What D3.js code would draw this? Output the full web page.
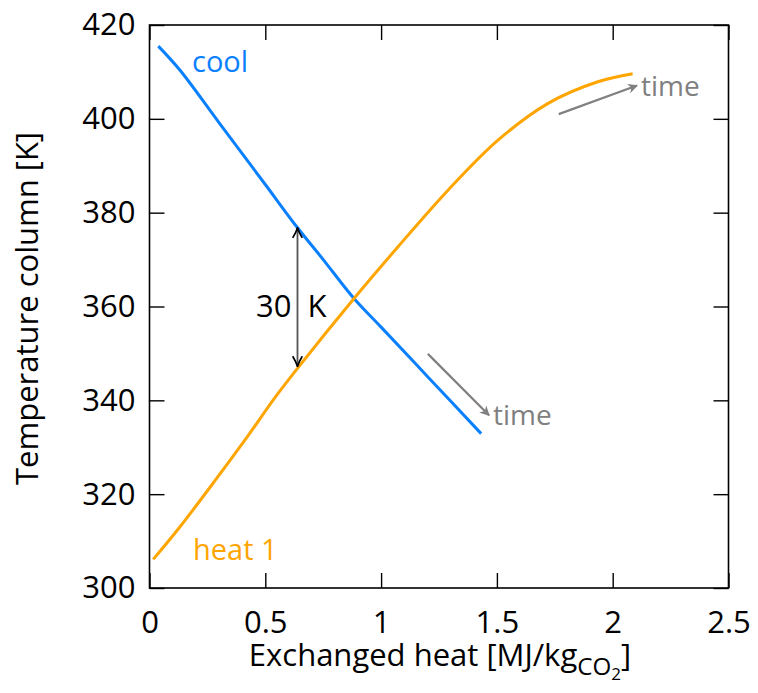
<!DOCTYPE html>
<html>
<head>
<meta charset="utf-8">
<script src="https://cdn.jsdelivr.net/npm/d3@7"></script>
<style>
  html, body { margin: 0; padding: 0; background: #fff; }
  svg { display: block; font-family: "Open Sans", "DejaVu Sans", sans-serif; }
</style>
</head>
<body>
<svg id="chart" width="758" height="693"></svg>
<script>
// Exchanged heat [MJ/kg CO2] and column temperature [K] along each step
const coolHeat = [0.038, 0.131, 0.30, 0.50, 0.634, 0.75, 0.883, 1.00, 1.20, 1.432];
const coolTemp = [415.5, 410.4, 399.2, 386.0, 377.1, 370.0, 361.7, 355.6, 345.1, 332.9];

const heatHeat = [0.016, 0.131, 0.289, 0.432, 0.533, 0.639, 0.883, 1.076, 1.291, 1.506, 1.721, 1.936, 2.086];
const heatTemp = [306.1, 313.0, 323.3, 332.9, 340.0, 346.8, 361.7, 372.9, 384.9, 395.5, 403.3, 407.9, 409.6];

// Axis ticks
const xTicks = [0, 0.5, 1, 1.5, 2, 2.5];
const yTicks = [300, 320, 340, 360, 380, 400, 420];

// Temperature gap marked between the two curves
const gapHeat = 0.639;
const gapLow = 347;
const gapHigh = 377;

// "time" direction arrows: [x0, T0, x1, T1]
const timeArrows = [
  [1.202, 349.9, 1.466, 336.8],
  [1.767, 401.0, 2.105, 407.1]
];

const svg = d3.select("#chart");
const mLeft = 149.5, mRight = 728.5, mTop = 25, mBottom = 588;

const x = d3.scaleLinear().domain([0, 2.5]).range([mLeft, mRight]);
const y = d3.scaleLinear().domain([300, 420]).range([mBottom, mTop]);

const blue = "#0a80ff";
const orange = "#ffa500";
const gray = "#808080";
const fs = 31;

// Arrow heads
const defs = svg.append("defs");
defs.append("marker")
  .attr("id", "headGray")
  .attr("viewBox", "0 0 10 10")
  .attr("refX", 9).attr("refY", 5)
  .attr("markerWidth", 10).attr("markerHeight", 10)
  .attr("markerUnits", "userSpaceOnUse")
  .attr("orient", "auto-start-reverse")
  .append("path")
  .attr("d", "M0,0 L10,5 L0,10 L3,5 Z")
  .attr("fill", gray);
defs.append("marker")
  .attr("id", "headBlack")
  .attr("viewBox", "0 0 10 10")
  .attr("refX", 9.5).attr("refY", 5)
  .attr("markerWidth", 12).attr("markerHeight", 12)
  .attr("markerUnits", "userSpaceOnUse")
  .attr("orient", "auto-start-reverse")
  .append("path")
  .attr("d", "M1,1 Q6,4 9.5,5 Q6,6 1,9")
  .attr("fill", "none")
  .attr("stroke", "#000")
  .attr("stroke-width", 1.4);

// Axes with inward ticks on all four sides
const tickLen = 15;
const xAxisB = d3.axisBottom(x).tickValues(xTicks).tickSizeInner(-tickLen).tickSizeOuter(0).tickPadding(23)
  .tickFormat(d => d3.format("")(d));
const xAxisT = d3.axisTop(x).tickValues(xTicks).tickSizeInner(-tickLen).tickSizeOuter(0).tickFormat("");
const yAxisL = d3.axisLeft(y).tickValues(yTicks).tickSizeInner(-tickLen).tickSizeOuter(0).tickPadding(14);
const yAxisR = d3.axisRight(y).tickValues(yTicks).tickSizeInner(-tickLen).tickSizeOuter(0).tickFormat("");

function styleAxis(g) {
  g.select(".domain").remove();
  g.attr("font-family", null);
  g.selectAll(".tick line").attr("stroke", "#000").attr("stroke-width", 1.4);
  g.selectAll(".tick text").attr("fill", "#000").attr("font-size", fs);
}
svg.append("g").attr("transform", `translate(0,${mBottom})`).call(xAxisB).call(styleAxis);
svg.append("g").attr("transform", `translate(0,${mTop})`).call(xAxisT).call(styleAxis);
svg.append("g").attr("transform", `translate(${mLeft},0)`).call(yAxisL).call(styleAxis);
svg.append("g").attr("transform", `translate(${mRight},0)`).call(yAxisR).call(styleAxis);

// Frame
svg.append("rect")
  .attr("x", mLeft).attr("y", mTop)
  .attr("width", mRight - mLeft).attr("height", mBottom - mTop)
  .attr("fill", "none").attr("stroke", "#000").attr("stroke-width", 1.6);

// Curves
const line = d3.line().x(d => x(d[0])).y(d => y(d[1])).curve(d3.curveCatmullRom.alpha(0.5));
svg.append("path")
  .datum(coolHeat.map((h, i) => [h, coolTemp[i]]))
  .attr("d", line).attr("fill", "none").attr("stroke", blue).attr("stroke-width", 3);
svg.append("path")
  .datum(heatHeat.map((h, i) => [h, heatTemp[i]]))
  .attr("d", line).attr("fill", "none").attr("stroke", orange).attr("stroke-width", 3);

// Gap arrow
svg.append("line")
  .attr("x1", x(gapHeat)).attr("x2", x(gapHeat))
  .attr("y1", y(gapLow) - 1).attr("y2", y(gapHigh) + 1)
  .attr("stroke", "#555").attr("stroke-width", 1.8)
  .attr("marker-start", "url(#headBlack)")
  .attr("marker-end", "url(#headBlack)");
const gapMid = y((gapLow + gapHigh) / 2) + 20;
svg.append("text")
  .attr("x", x(gapHeat) - 6).attr("y", gapMid)
  .attr("text-anchor", "end").attr("font-size", fs).text(gapHigh - gapLow);
svg.append("text")
  .attr("x", x(gapHeat) + 10).attr("y", gapMid)
  .attr("font-size", fs).text("K");

// Time arrows
timeArrows.forEach(a => {
  svg.append("line")
    .attr("x1", x(a[0])).attr("y1", y(a[1]))
    .attr("x2", x(a[2])).attr("y2", y(a[3]))
    .attr("stroke", gray).attr("stroke-width", 2.2)
    .attr("marker-end", "url(#headGray)");
  svg.append("text")
    .attr("x", x(a[2]) + 4).attr("y", y(a[3]) + 10)
    .attr("fill", gray).attr("font-size", fs - 3).text("time");
});

// Curve labels
svg.append("text").attr("x", 192).attr("y", 72)
  .attr("fill", blue).attr("font-size", fs - 2).text("cool");
svg.append("text").attr("x", 193).attr("y", 560)
  .attr("fill", orange).attr("font-size", fs - 2).text("heat 1");

// Axis titles
const xt = svg.append("text")
  .attr("x", (mLeft + mRight) / 2 + 1).attr("y", 666)
  .attr("text-anchor", "middle").attr("font-size", fs);
xt.append("tspan").text("Exchanged heat [MJ/kg");
xt.append("tspan").attr("font-size", fs * 0.78).attr("dy", 9).text("CO");
xt.append("tspan").attr("font-size", fs * 0.55).attr("dy", 5).text("2");
xt.append("tspan").attr("dy", -14).text("]");

svg.append("text")
  .attr("transform", `translate(38,${(mTop + mBottom) / 2 + 2}) rotate(-90)`)
  .attr("text-anchor", "middle").attr("font-size", fs).text("Temperature column [K]");
</script>
</body>
</html>
